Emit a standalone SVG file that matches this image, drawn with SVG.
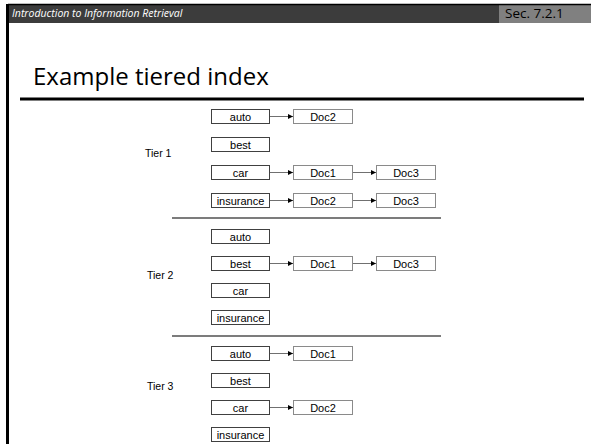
<svg xmlns="http://www.w3.org/2000/svg" width="591" height="444" viewBox="0 0 591 444">
  <style>
    .key { fill: #ffffff; stroke: #404040; stroke-width: 1; }
    .doc { fill: #ffffff; stroke: #8a8a8a; stroke-width: 1; }
    .lbl { font-family: "Liberation Sans", Arial, sans-serif; font-size: 11px; fill: #000000; text-anchor: middle; }
    .tier { font-family: "Liberation Sans", Arial, sans-serif; font-size: 10.5px; fill: #000000; }
    .edge { stroke: #707070; stroke-width: 1; fill: none; marker-end: url(#arrow); }
    .sep { stroke: #505050; stroke-width: 1.5; }
  </style>
  <defs>
    <marker id="arrow" viewBox="0 0 6 6" refX="6" refY="3" markerWidth="5" markerHeight="5" markerUnits="userSpaceOnUse" orient="auto">
      <path d="M0,0 L6,3 L0,6 z" fill="#000000"/>
    </marker>
  </defs>

  <rect width="591" height="444" fill="#ffffff"/>

  <!-- slide header -->
  <rect x="8" y="4" width="583" height="19" fill="#3c3c3c"/>
  <rect x="499" y="4" width="92" height="19" fill="#808080"/>
  <line x1="8" y1="4.5" x2="591" y2="4.5" stroke="#000000" stroke-width="1.5"/>
  <line x1="7.5" y1="4" x2="7.5" y2="444" stroke="#000000" stroke-width="3"/>
  <text x="12" y="17" font-family="'Open Sans', 'Liberation Sans', sans-serif" font-style="italic" font-size="10.5" fill="#ffffff">Introduction to Information Retrieval</text>
  <text x="505" y="18" font-family="'Open Sans', 'Liberation Sans', sans-serif" font-size="13.5" fill="#000000">Sec. 7.2.1</text>

  <!-- title -->
  <text x="33" y="85" font-family="'Open Sans', 'Liberation Sans', sans-serif" font-size="24" fill="#000000">Example tiered index</text>
  <line x1="20" y1="99" x2="584" y2="99" stroke="#000000" stroke-width="3"/>

  <!-- tier labels -->
  <text class="tier" x="145" y="157">Tier 1</text>
  <text class="tier" x="147" y="279">Tier 2</text>
  <text class="tier" x="147" y="390">Tier 3</text>

  <!-- connectors -->
  <g id="connectors">
    <line class="sep" x1="172" y1="218" x2="441" y2="218"/>
    <line class="sep" x1="172" y1="336" x2="441" y2="336"/>
    <line class="edge" x1="270" y1="116.5" x2="293" y2="116.5"/>
    <line class="edge" x1="270" y1="172.5" x2="293" y2="172.5"/>
    <line class="edge" x1="353" y1="172.5" x2="376" y2="172.5"/>
    <line class="edge" x1="270" y1="200.5" x2="293" y2="200.5"/>
    <line class="edge" x1="353" y1="200.5" x2="376" y2="200.5"/>
    <line class="edge" x1="270" y1="263.5" x2="293" y2="263.5"/>
    <line class="edge" x1="353" y1="263.5" x2="376" y2="263.5"/>
    <line class="edge" x1="270" y1="353.5" x2="293" y2="353.5"/>
    <line class="edge" x1="270" y1="407.5" x2="293" y2="407.5"/>
  </g>

  <!-- tier 1 -->
  <g id="t1-auto"><rect class="key" x="211.5" y="109.5" width="58" height="14"/><text class="lbl" x="240.5" y="120.5">auto</text></g>
  <g id="t1-auto-doc2"><rect class="doc" x="293.5" y="109.5" width="59" height="14"/><text class="lbl" x="323" y="120.5">Doc2</text></g>
  <g id="t1-best"><rect class="key" x="211.5" y="137.5" width="58" height="14"/><text class="lbl" x="240.5" y="148.5">best</text></g>
  <g id="t1-car"><rect class="key" x="211.5" y="165.5" width="58" height="14"/><text class="lbl" x="240.5" y="176.5">car</text></g>
  <g id="t1-car-doc1"><rect class="doc" x="293.5" y="165.5" width="59" height="14"/><text class="lbl" x="323" y="176.5">Doc1</text></g>
  <g id="t1-car-doc3"><rect class="doc" x="376.5" y="165.5" width="59" height="14"/><text class="lbl" x="406" y="176.5">Doc3</text></g>
  <g id="t1-insurance"><rect class="key" x="211.5" y="193.5" width="58" height="14"/><text class="lbl" x="240.5" y="204.5">insurance</text></g>
  <g id="t1-ins-doc2"><rect class="doc" x="293.5" y="193.5" width="59" height="14"/><text class="lbl" x="323" y="204.5">Doc2</text></g>
  <g id="t1-ins-doc3"><rect class="doc" x="376.5" y="193.5" width="59" height="14"/><text class="lbl" x="406" y="204.5">Doc3</text></g>

  <!-- tier 2 -->
  <g id="t2-auto"><rect class="key" x="211.5" y="229.5" width="58" height="14"/><text class="lbl" x="240.5" y="240.5">auto</text></g>
  <g id="t2-best"><rect class="key" x="211.5" y="256.5" width="58" height="14"/><text class="lbl" x="240.5" y="267.5">best</text></g>
  <g id="t2-best-doc1"><rect class="doc" x="293.5" y="256.5" width="59" height="14"/><text class="lbl" x="323" y="267.5">Doc1</text></g>
  <g id="t2-best-doc3"><rect class="doc" x="376.5" y="256.5" width="59" height="14"/><text class="lbl" x="406" y="267.5">Doc3</text></g>
  <g id="t2-car"><rect class="key" x="211.5" y="283.5" width="58" height="14"/><text class="lbl" x="240.5" y="294.5">car</text></g>
  <g id="t2-insurance"><rect class="key" x="211.5" y="310.5" width="58" height="14"/><text class="lbl" x="240.5" y="321.5">insurance</text></g>

  <!-- tier 3 -->
  <g id="t3-auto"><rect class="key" x="211.5" y="346.5" width="58" height="14"/><text class="lbl" x="240.5" y="357.5">auto</text></g>
  <g id="t3-auto-doc1"><rect class="doc" x="293.5" y="346.5" width="59" height="14"/><text class="lbl" x="323" y="357.5">Doc1</text></g>
  <g id="t3-best"><rect class="key" x="211.5" y="373.5" width="58" height="14"/><text class="lbl" x="240.5" y="384.5">best</text></g>
  <g id="t3-car"><rect class="key" x="211.5" y="400.5" width="58" height="14"/><text class="lbl" x="240.5" y="411.5">car</text></g>
  <g id="t3-car-doc2"><rect class="doc" x="293.5" y="400.5" width="59" height="14"/><text class="lbl" x="323" y="411.5">Doc2</text></g>
  <g id="t3-insurance"><rect class="key" x="211.5" y="427.5" width="58" height="14"/><text class="lbl" x="240.5" y="438.5">insurance</text></g>
</svg>
